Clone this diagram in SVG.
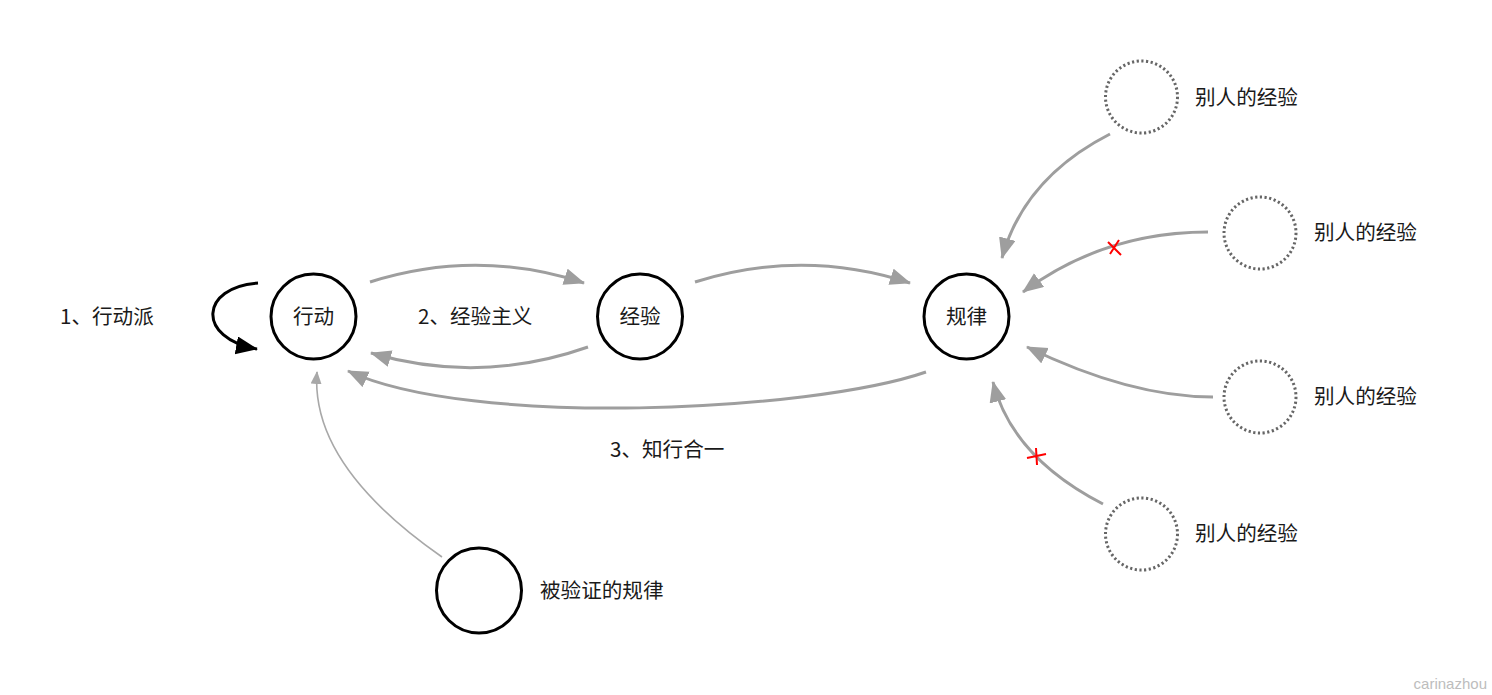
<svg xmlns="http://www.w3.org/2000/svg" width="1492" height="695" viewBox="0 0 1492 695">
<style>
.lbl{font-family:"Noto Sans CJK SC","Noto Sans",sans-serif;font-size:20.6px;fill:#1a1a1a}
.node{fill:#fff;stroke:#000;stroke-width:3}
.other{fill:#fff;stroke:#666;stroke-width:3;stroke-dasharray:2.2 2.5}
.edge{fill:none;stroke:#9e9e9e;stroke-width:3}
.thin{fill:none;stroke:#a8a8a8;stroke-width:1.6}
.cross{stroke:#f00;stroke-width:2;fill:none}
</style>
<defs>
<marker id="ag" markerUnits="userSpaceOnUse" markerWidth="22" markerHeight="18" refX="20" refY="8.5" orient="auto">
<path d="M0,0 L21,8.5 L0,17 z" fill="#9e9e9e"/>
</marker>
<marker id="at" markerUnits="userSpaceOnUse" markerWidth="14" markerHeight="12" refX="12" refY="5.5" orient="auto">
<path d="M0,0 L13,5.5 L0,11 z" fill="#a8a8a8"/>
</marker>
<marker id="ab" markerUnits="userSpaceOnUse" markerWidth="24" markerHeight="20" refX="21" refY="9" orient="auto">
<path d="M0,0 L22,9 L0,18 z" fill="#000"/>
</marker>
</defs>
<rect width="1492" height="695" fill="#fff"/>
<g id="connectors">
<path d="M258,283 C200,287 196,338 257,349" fill="none" stroke="#000" stroke-width="3" marker-end="url(#ab)"/>
<path class="edge" d="M370,282 Q477,248 584,283" marker-end="url(#ag)"/>
<path class="edge" d="M588,347 Q480,385 371,353" marker-end="url(#ag)"/>
<path class="edge" d="M695,282 Q803,248 910,283" marker-end="url(#ag)"/>
<path class="edge" d="M926,372 C810,412 470,428 348,371" marker-end="url(#ag)"/>
<path class="edge" d="M1110,134 Q1024,178 1002,258" marker-end="url(#ag)"/>
<path class="edge" d="M1208,232 Q1104,232 1023,292" marker-end="url(#ag)"/>
<path class="edge" d="M1213,397 Q1130,397 1027,347" marker-end="url(#ag)"/>
<path class="edge" d="M1103,504 Q1012,457 993,382" marker-end="url(#ag)"/>
<path class="thin" d="M442,557 Q310,465 317,372" marker-end="url(#at)"/>
<path class="cross" d="M1108,242 L1121,255 M1110,254 L1119,240"/>
<path class="cross" d="M1027,458 L1046,454 M1036,448 L1037,465"/>
</g>
<g id="label-1"><text class="lbl" x="60" y="324">1、行动派</text></g>
<g id="node-xingdong"><circle class="node" cx="313.5" cy="316.5" r="42.5"/><text class="lbl" x="313.5" y="324" text-anchor="middle">行动</text></g>
<g id="label-2"><text class="lbl" x="418" y="324">2、经验主义</text></g>
<g id="node-jingyan"><circle class="node" cx="640" cy="316.5" r="42.5"/><text class="lbl" x="640" y="324" text-anchor="middle">经验</text></g>
<g id="node-guilv"><circle class="node" cx="966.5" cy="316.5" r="42.5"/><text class="lbl" x="966.5" y="324" text-anchor="middle">规律</text></g>
<g id="label-3"><text class="lbl" x="610" y="457">3、知行合一</text></g>
<g id="node-verified"><circle class="node" cx="479" cy="590.5" r="42.5"/><text class="lbl" x="540" y="598">被验证的规律</text></g>
<g id="node-other1"><circle class="other" cx="1141.5" cy="97" r="36"/><text class="lbl" x="1195" y="105">别人的经验</text></g>
<g id="node-other2"><circle class="other" cx="1260" cy="233" r="36"/><text class="lbl" x="1314" y="240">别人的经验</text></g>
<g id="node-other3"><circle class="other" cx="1260" cy="397" r="36"/><text class="lbl" x="1314" y="404">别人的经验</text></g>
<g id="node-other4"><circle class="other" cx="1141.5" cy="534" r="36"/><text class="lbl" x="1195" y="541">别人的经验</text></g>
<text x="1487" y="689" text-anchor="end" font-family="Liberation Sans, Arial, sans-serif" font-size="15" fill="#bdbdbd">carinazhou</text>
</svg>
